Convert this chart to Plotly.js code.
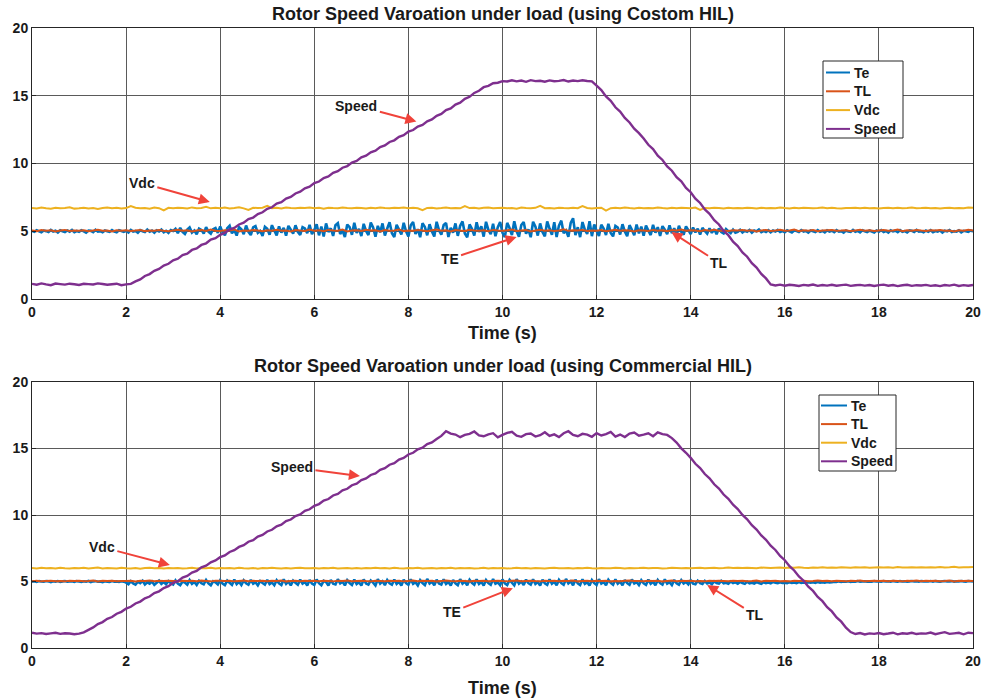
<!DOCTYPE html>
<html>
<head>
<meta charset="utf-8">
<script src="https://cdn.plot.ly/plotly-3.0.1.min.js"></script>
<style>
  html, body { margin: 0; padding: 0; background: #ffffff; }
  #chart { width: 984px; height: 698px; }
</style>
</head>
<body>
<div id="chart"></div>
<script>
// Sample periods of the logged signals (s): torque Te is logged faster
const sampleStep = 0.1;
const teStep = 0.05;

// ---- Custom HIL run ----
// Te sampled at 0.00, 0.05, ... 20.00 s
const teCustom = [
  5.03,4.96,5.08,4.99,4.92,5.05,5.01,4.95,5.10,4.98,5.04,4.91,5.07,5.00,4.94,5.06,4.97,5.09,4.93,5.02,
  4.96,5.08,4.99,4.90,5.05,5.03,4.94,5.11,4.97,5.01,4.92,5.06,5.00,4.95,5.09,4.98,4.93,5.07,5.02,4.96,
  5.04,4.91,5.10,4.97,5.02,4.89,5.08,5.00,4.94,5.12,4.96,5.05,4.90,5.07,4.99,5.13,4.92,5.03,4.88,5.09,
  5.02,5.18,4.86,5.25,4.95,4.80,5.12,5.28,4.90,5.05,4.78,5.20,5.10,4.84,5.30,4.97,4.82,5.15,5.24,4.88,
  5.35,4.92,4.70,5.22,5.40,4.85,5.08,4.68,5.30,5.15,4.78,5.42,4.95,4.72,5.28,5.38,4.88,5.02,4.66,5.33,
  5.18,4.75,5.45,5.05,4.70,5.36,4.90,5.25,4.68,5.40,5.12,4.82,5.44,4.96,4.73,5.30,5.20,4.86,5.48,4.78,
  5.10,5.52,4.70,5.35,4.62,5.58,4.95,5.22,4.66,5.45,5.60,4.80,5.05,4.58,5.50,5.30,4.74,5.62,4.88,5.18,
  4.64,5.55,5.02,4.72,5.64,5.28,4.60,5.40,4.92,5.58,4.68,5.20,5.66,4.85,4.57,5.48,5.12,4.76,5.62,5.00,
  4.62,5.44,5.68,4.80,5.15,4.56,5.60,5.32,4.70,5.52,4.98,4.61,5.70,5.08,4.74,5.46,5.62,4.58,5.26,4.90,
  5.58,4.66,5.40,5.72,4.84,4.55,5.50,5.18,4.69,5.66,4.95,5.36,4.60,5.70,5.10,4.78,5.55,4.63,5.30,5.68,
  4.88,4.57,5.62,5.24,4.72,5.74,5.00,4.60,5.46,5.68,4.82,5.14,4.56,5.70,5.34,4.68,5.58,4.94,4.62,5.72,
  5.20,4.74,5.66,4.58,5.42,5.78,4.86,5.06,4.60,5.62,5.96,4.72,5.30,4.57,5.68,5.12,4.80,5.74,4.64,5.50,
  5.02,4.66,5.48,5.20,4.72,5.55,4.88,4.62,5.40,5.28,4.76,5.52,4.98,4.64,5.45,5.10,4.70,5.50,4.84,5.34,
  4.68,5.42,5.05,4.72,5.48,4.90,5.30,4.66,5.38,5.12,4.78,5.44,4.86,5.22,4.70,5.40,4.95,4.74,5.36,5.08,
  4.80,5.28,4.92,5.18,4.76,5.25,5.02,4.82,5.22,4.88,5.15,4.78,5.20,4.94,4.84,5.16,5.00,4.86,5.12,4.90,
  4.96,5.11,4.91,5.04,4.97,5.09,4.90,5.06,4.99,5.12,4.93,5.03,4.95,5.08,4.92,5.05,4.98,5.10,4.94,5.01,
  4.93,5.07,4.99,4.91,5.06,5.02,4.95,5.09,4.97,5.03,4.90,5.05,5.00,4.94,5.08,4.96,5.02,4.92,5.07,4.98,
  5.04,4.93,5.08,4.97,5.01,4.90,5.06,4.99,4.95,5.10,4.96,5.03,4.92,5.07,5.00,4.94,5.05,4.98,4.91,5.06,
  4.97,5.09,4.94,5.02,4.90,5.07,4.99,5.04,4.93,5.08,4.96,5.01,4.91,5.06,5.03,4.95,5.10,4.97,5.00,4.92,
  5.05,4.96,5.08,4.93,5.02,4.98,5.06,4.91,5.04,4.99,5.09,4.94,5.01,4.97,5.07,4.92,5.03,5.00,4.95,5.06,
  4.98
];
// TL, Vdc and Speed sampled at 0.0, 0.1, ... 20.0 s
const tlCustom = [
  5.06,5.01,5.09,5.03,5.07,4.99,5.05,5.10,5.02,5.06,
  5.04,5.08,5.00,5.06,5.11,5.03,5.05,4.99,5.08,5.04,
  5.07,5.02,5.05,5.09,5.01,5.06,5.03,5.10,5.04,5.00,
  5.06,5.11,5.03,5.07,4.98,5.05,5.09,5.02,5.12,5.04,
  5.01,5.07,5.05,5.12,4.99,5.06,5.03,5.10,5.05,5.00,
  5.08,5.03,5.11,5.04,5.06,4.98,5.09,5.05,5.02,5.13,
  5.04,5.07,5.00,5.10,5.05,5.03,5.12,4.99,5.06,5.08,
  5.02,5.11,5.05,5.07,4.98,5.09,5.04,5.06,5.13,5.01,
  5.06,5.03,5.10,5.05,5.00,5.08,5.12,5.04,5.07,4.99,
  5.09,5.05,5.02,5.11,5.06,5.03,5.08,5.00,5.10,5.05,
  5.03,5.07,5.13,5.02,5.06,5.09,4.99,5.05,5.11,5.04,
  5.08,5.01,5.06,5.14,5.03,5.07,5.05,5.10,5.02,5.06,
  5.04,5.09,5.00,5.06,5.11,5.03,5.07,5.05,4.99,5.08,
  5.06,5.02,5.10,5.04,5.07,5.01,5.09,5.05,5.12,5.03,
  5.07,5.05,5.00,5.09,5.04,5.11,5.03,5.06,5.02,5.08,
  5.05,5.10,5.03,5.07,4.99,5.06,5.09,5.02,5.05,5.11,
  5.03,5.06,5.12,5.01,5.07,5.04,5.09,5.00,5.06,5.08,
  5.10,5.03,5.05,5.08,5.01,5.06,5.11,5.04,5.07,5.02,
  5.06,5.09,5.03,5.05,5.12,5.00,5.07,5.04,5.09,5.05,
  5.02,5.07,5.05,5.10,5.03,5.06,4.99,5.08,5.04,5.11,
  5.05
];
const vdcCustom = [
  6.72,6.68,6.75,6.70,6.66,6.73,6.69,6.71,6.77,6.67,
  6.70,6.74,6.68,6.72,6.65,6.71,6.76,6.69,6.73,6.68,
  6.71,6.86,6.74,6.69,6.72,6.67,6.75,6.70,6.54,6.73,
  6.69,6.74,6.71,6.68,6.76,6.70,6.72,6.80,6.69,6.73,
  6.70,6.75,6.68,6.72,6.77,6.69,6.58,6.73,6.71,6.74,
  6.88,6.70,6.73,6.68,6.75,6.71,6.69,6.74,6.72,6.76,
  6.70,6.73,6.67,6.74,6.71,6.69,6.75,6.72,6.70,6.73,
  6.71,6.68,6.74,6.70,6.76,6.72,6.69,6.73,6.71,6.75,
  6.69,6.73,6.70,6.56,6.72,6.74,6.68,6.71,6.75,6.70,
  6.72,6.69,6.86,6.71,6.74,6.68,6.73,6.76,6.70,6.72,
  6.74,6.70,6.72,6.67,6.75,6.71,6.69,6.73,6.88,6.70,
  6.72,6.68,6.74,6.71,6.69,6.73,6.70,6.85,6.72,6.68,
  6.71,6.74,6.52,6.70,6.73,6.69,6.75,6.71,6.68,6.73,
  6.70,6.72,6.69,6.76,6.71,6.68,6.74,6.70,6.73,6.71,
  6.69,6.75,6.58,6.72,6.70,6.73,6.71,6.68,6.74,6.70,
  6.72,6.69,6.73,6.71,6.68,6.74,6.70,6.72,6.69,6.75,
  6.71,6.68,6.73,6.70,6.74,6.72,6.69,6.71,6.75,6.70,
  6.73,6.70,6.68,6.72,6.71,6.74,6.69,6.73,6.70,6.72,
  6.68,6.71,6.74,6.70,6.73,6.69,6.72,6.76,6.70,6.71,
  6.74,6.70,6.72,6.68,6.71,6.73,6.69,6.72,6.70,6.75,
  6.73
];
const speedCustom = [
  1.12,1.05,1.15,1.08,1.02,1.14,1.10,1.06,1.13,1.09,
  1.04,1.12,1.10,1.07,1.15,1.11,1.05,1.09,1.13,1.02,
  1.08,1.12,1.30,1.45,1.70,1.84,2.08,2.22,2.47,2.60,
  2.86,2.97,3.24,3.35,3.62,3.73,3.99,4.11,4.38,4.49,
  4.74,4.88,5.14,5.25,5.50,5.63,5.90,6.01,6.27,6.40,
  6.65,6.77,7.04,7.15,7.41,7.53,7.79,7.92,8.17,8.29,
  8.55,8.67,8.93,9.05,9.31,9.43,9.69,9.81,10.07,10.19,
  10.45,10.58,10.83,10.95,11.21,11.33,11.59,11.71,11.97,12.09,
  12.35,12.47,12.73,12.85,13.11,13.25,13.52,13.66,13.94,14.07,
  14.35,14.49,14.77,14.92,15.21,15.37,15.63,15.73,15.92,15.96,
  16.08,16.05,16.14,16.06,16.12,16.03,16.15,16.08,16.11,16.04,
  16.13,16.07,16.10,16.16,16.05,16.12,16.08,16.14,16.09,16.06,
  15.74,15.42,14.95,14.62,14.15,13.83,13.36,13.03,12.57,12.24,
  11.85,11.38,11.06,10.58,10.26,9.79,9.47,8.99,8.68,8.20,
  7.88,7.41,7.09,6.61,6.29,5.82,5.50,5.02,4.71,4.23,
  3.91,3.44,3.12,2.64,2.32,1.85,1.52,1.08,1.00,1.06,
  0.98,1.05,1.01,0.96,1.04,1.00,1.07,0.97,1.03,0.99,
  1.05,0.98,1.02,1.06,0.97,1.01,1.04,0.99,1.03,0.96,
  1.02,1.06,0.98,1.03,0.95,1.01,1.05,0.97,1.02,1.00,
  1.04,0.97,1.01,0.95,1.03,0.99,1.06,0.96,1.02,0.98,
  1.03
];

// ---- Commercial HIL run ----
// Te sampled at 0.00, 0.05, ... 20.00 s
const teCommercial = [
  4.99,5.02,4.97,5.03,5.00,4.98,5.04,5.01,4.96,5.02,4.99,5.03,4.97,5.01,5.04,4.98,5.00,5.02,4.97,5.03,
  5.00,4.97,5.02,4.99,5.04,4.96,5.01,5.03,4.98,5.00,4.95,5.02,4.99,4.96,5.03,4.98,5.01,4.97,5.02,4.99,
  4.92,4.80,5.02,4.86,4.76,4.98,4.88,5.05,4.78,4.94,4.84,5.00,4.75,4.90,5.06,4.82,4.96,4.79,5.03,4.87,
  4.77,5.08,4.85,4.73,5.00,4.92,4.76,5.10,4.83,4.97,4.74,5.05,4.88,4.79,5.12,4.86,4.72,5.02,4.94,4.78,
  5.10,4.84,4.72,5.06,4.90,4.75,5.14,4.81,4.98,4.73,5.08,4.87,4.76,5.12,4.83,4.95,4.71,5.04,4.89,4.77,
  5.13,4.80,4.93,4.72,5.09,4.86,4.74,5.16,4.82,5.00,4.71,5.07,4.90,4.76,5.14,4.84,4.97,4.70,5.11,4.85,
  4.74,5.15,4.88,4.72,5.05,4.96,4.70,5.12,4.83,4.78,5.17,4.86,4.99,4.71,5.10,4.89,4.75,5.14,4.81,4.94,
  4.70,5.16,4.85,4.77,5.08,4.92,4.71,5.18,4.84,5.01,4.73,5.11,4.87,4.76,5.15,4.82,4.98,4.70,5.13,4.88,
  4.75,5.17,4.83,4.95,4.71,5.10,4.89,4.74,5.19,4.85,4.99,4.72,5.14,4.86,4.78,5.16,4.81,4.96,4.70,5.12,
  4.87,4.73,5.18,4.84,5.00,4.71,5.13,4.90,4.76,5.17,4.82,4.97,4.70,5.11,4.88,4.75,5.19,4.83,4.94,4.72,
  5.15,4.86,4.74,5.12,4.91,4.71,5.18,4.84,4.99,4.73,5.14,4.88,4.77,5.16,4.82,4.96,4.70,5.13,4.87,4.75,
  5.17,4.83,4.98,4.72,5.12,4.89,4.76,5.19,4.85,5.01,4.71,5.14,4.87,4.74,5.16,4.82,4.95,4.70,5.11,4.88,
  4.74,5.18,4.84,4.97,4.72,5.13,4.90,4.76,5.17,4.83,4.99,4.71,5.12,4.88,4.75,5.15,4.85,4.96,4.73,5.10,
  4.86,4.75,5.14,4.83,4.98,4.72,5.11,4.89,4.77,5.16,4.84,4.95,4.73,5.12,4.87,4.76,5.10,4.85,4.97,4.78,
  5.08,4.84,4.79,5.06,4.88,4.82,5.04,4.86,4.93,4.80,5.02,4.89,4.84,5.05,4.87,4.91,4.83,5.00,4.88,4.94,
  4.84,4.97,4.88,4.82,4.99,4.86,4.91,4.85,4.96,4.89,4.83,4.95,4.88,4.92,4.86,4.97,4.90,4.87,4.94,4.89,
  4.91,4.87,4.95,4.89,4.93,4.88,4.96,4.90,4.92,4.89,4.95,4.91,4.94,4.90,4.97,4.92,4.95,4.91,4.96,4.93,
  4.95,4.99,4.96,5.01,4.97,5.00,4.98,5.02,4.97,5.01,4.99,5.03,4.98,5.00,5.02,4.99,5.01,4.98,5.03,5.00,
  5.01,4.99,5.03,5.00,5.02,4.98,5.04,5.01,4.99,5.03,5.00,5.02,4.98,5.01,5.04,5.00,5.02,4.99,5.03,5.01,
  5.02,5.00,5.04,4.99,5.03,5.01,4.98,5.02,5.04,5.00,5.01,5.03,4.99,5.02,5.00,5.04,5.01,4.99,5.03,5.02,
  5.01
];
// TL, Vdc and Speed sampled at 0.0, 0.1, ... 20.0 s
const tlCommercial = [
  5.02,5.05,5.01,5.04,5.06,5.02,5.04,5.01,5.05,5.03,
  5.06,5.02,5.04,5.07,5.01,5.05,5.03,5.06,5.02,5.04,
  5.03,5.06,5.01,5.05,5.04,5.07,5.02,5.05,5.03,5.06,
  5.04,5.01,5.06,5.03,5.05,5.02,5.07,5.04,5.01,5.05,
  5.06,5.03,5.05,5.01,5.04,5.07,5.02,5.05,5.03,5.06,
  5.02,5.05,5.03,5.07,5.01,5.04,5.06,5.02,5.05,5.03,
  5.05,5.02,5.06,5.04,5.01,5.05,5.03,5.07,5.02,5.04,
  5.06,5.03,5.01,5.05,5.04,5.02,5.06,5.03,5.05,5.01,
  5.04,5.07,5.02,5.05,5.03,5.06,5.01,5.04,5.07,5.03,
  5.02,5.05,5.04,5.01,5.06,5.03,5.05,5.02,5.04,5.06,
  5.03,5.01,5.05,5.07,5.02,5.04,5.06,5.03,5.01,5.05,
  5.04,5.06,5.02,5.05,5.03,5.07,5.01,5.04,5.06,5.02,
  5.05,5.03,5.06,5.01,5.04,5.02,5.05,5.07,5.03,5.04,
  5.02,5.05,5.03,5.06,5.01,5.04,5.07,5.02,5.05,5.03,
  5.06,5.02,5.04,5.01,5.05,5.03,5.06,5.04,5.02,5.05,
  5.03,5.06,5.02,5.04,5.07,5.01,5.05,5.03,5.06,5.02,
  5.04,5.01,5.05,5.03,5.06,5.02,5.04,5.07,5.03,5.05,
  5.02,5.06,5.04,5.01,5.05,5.03,5.07,5.02,5.04,5.06,
  5.03,5.05,5.02,5.06,5.04,5.01,5.05,5.03,5.07,5.02,
  5.05,5.03,5.06,5.02,5.04,5.07,5.01,5.05,5.03,5.06,
  5.04
];
const vdcCommercial = [
  6.01,5.98,6.03,5.99,6.02,5.97,6.04,6.00,5.98,6.02,
  5.99,6.03,5.97,6.01,6.05,5.98,6.02,6.00,5.97,6.03,
  6.00,5.98,6.02,5.96,6.01,6.04,5.99,6.02,5.97,6.01,
  5.99,6.02,5.98,6.00,6.03,5.97,6.01,5.99,6.04,5.98,
  6.02,5.99,6.01,5.97,6.03,6.00,5.98,6.02,5.96,6.01,
  5.99,6.03,6.00,5.97,6.02,5.98,6.01,6.04,5.99,6.00,
  6.02,5.97,6.01,5.99,6.03,5.98,6.00,6.02,5.97,6.01,
  5.98,6.02,6.00,6.04,5.99,6.01,5.97,6.03,6.00,5.98,
  6.01,5.99,6.03,5.97,6.00,6.02,5.98,6.01,5.99,6.03,
  5.97,6.01,5.99,6.02,5.98,6.00,6.03,5.97,6.01,5.99,
  6.02,5.98,6.00,6.03,5.99,6.01,5.97,6.02,6.00,5.98,
  6.01,6.03,5.99,6.00,6.02,5.98,6.01,5.99,6.03,6.00,
  5.98,6.02,6.00,5.99,6.03,6.01,5.98,6.02,6.00,6.01,
  6.03,5.99,6.01,6.02,5.98,6.00,6.03,6.01,5.99,6.02,
  6.00,6.02,6.04,5.99,6.01,6.03,6.00,6.02,6.05,6.01,
  6.03,6.01,6.04,6.02,6.00,6.05,6.03,6.01,6.04,6.06,
  6.02,6.05,6.03,6.07,6.04,6.02,6.06,6.04,6.08,6.03,
  6.06,6.04,6.07,6.05,6.03,6.08,6.05,6.07,6.04,6.06,
  6.08,6.05,6.07,6.04,6.09,6.06,6.05,6.08,6.06,6.07,
  6.05,6.08,6.06,6.09,6.05,6.07,6.10,6.06,6.08,6.07,
  6.09
];
const speedCommercial = [
  1.15,1.08,1.12,1.05,1.10,1.14,1.06,1.11,1.09,1.04,
  1.08,1.18,1.36,1.55,1.80,1.95,2.19,2.33,2.58,2.72,
  2.96,3.10,3.35,3.49,3.74,3.87,4.13,4.26,4.51,4.65,
  4.90,5.03,5.29,5.42,5.67,5.80,6.06,6.19,6.44,6.58,
  6.83,6.96,7.22,7.35,7.60,7.73,7.99,8.11,8.38,8.50,
  8.76,8.89,9.15,9.27,9.54,9.66,9.92,10.04,10.31,10.43,
  10.69,10.82,11.08,11.20,11.47,11.59,11.85,11.97,12.24,12.36,
  12.62,12.75,13.01,13.13,13.40,13.52,13.78,13.90,14.17,14.29,
  14.55,14.68,14.94,15.06,15.33,15.45,15.71,15.95,16.30,16.12,
  16.05,15.85,16.02,16.10,16.28,15.98,15.92,16.06,16.15,15.84,
  16.02,16.18,16.25,15.96,15.88,16.08,16.12,15.90,16.00,16.22,
  15.94,16.06,15.86,16.15,16.30,16.02,15.92,16.10,16.04,15.88,
  16.16,15.98,16.08,16.24,15.90,16.05,15.86,16.12,16.20,15.96,
  16.04,16.14,15.92,16.22,16.08,16.02,15.78,15.45,15.01,14.68,
  14.30,13.85,13.53,13.08,12.76,12.31,11.99,11.54,11.22,10.77,
  10.45,10.00,9.68,9.23,8.91,8.46,8.14,7.69,7.37,6.92,
  6.60,6.15,5.83,5.38,5.06,4.61,4.29,3.84,3.52,3.07,
  2.75,2.30,1.98,1.53,1.20,1.05,1.12,1.02,1.10,1.06,
  1.13,1.04,1.09,1.15,1.03,1.11,1.07,1.14,1.05,1.10,
  1.08,1.16,1.04,1.12,1.19,1.06,1.10,1.14,1.03,1.15,
  1.12
];

// Time bases of the logged samples
const timeOf = (vals, step) => vals.map((_, i) => +(i * step).toFixed(2));
const time = timeOf(speedCustom, sampleStep);
const teTime = timeOf(teCustom, teStep);

const seriesNames = ['Te', 'TL', 'Vdc', 'Speed'];
const seriesColors = ['#0072BD', '#D95319', '#EDB120', '#7E2F8E'];
const seriesWidths = [2.6, 2, 2, 2.4];
const panelTitles = [
  'Rotor Speed Varoation under load (using Costom HIL)',
  'Rotor Speed Varoation under load (using Commercial HIL)'
];
const xAxisLabel = 'Time (s)';
const xTicks = [0, 2, 4, 6, 8, 10, 12, 14, 16, 18, 20];
const yTicks = [0, 5, 10, 15, 20];

// Callout labels: [text, x, y] of the point each red arrow touches
const calloutsCustom = [
  ['Speed', 8.17, 13.1], ['Vdc', 3.78, 7.16], ['TE', 10.3, 4.58], ['TL', 13.59, 4.94]
];
const calloutsCommercial = [
  ['Speed', 6.97, 12.93], ['Vdc', 2.93, 6.24], ['TE', 10.22, 4.5], ['TL', 14.35, 4.74]
];

const FONT = '"Liberation Sans", Arial, Helvetica, sans-serif';
const INK = '#1a1a1a';

// Figure geometry (px)
const W = 984, H = 698;
const M = { l: 32, r: 11, t: 28, b: 50 };
const plotW = W - M.l - M.r, plotH = H - M.t - M.b;
const px2x = px => (px - M.l) / plotW;
const px2y = py => (H - M.b - py) / plotH;

function makeTraces(sets, xa, ya) {
  return sets.map((vals, k) => ({
    type: 'scatter', mode: 'lines',
    x: k === 0 ? teTime : time, y: vals,
    name: seriesNames[k],
    xaxis: xa, yaxis: ya, showlegend: false,
    line: { color: seriesColors[k], width: seriesWidths[k], simplify: false },
    hoverinfo: 'skip'
  }));
}

const traces = [
  ...makeTraces([teCustom, tlCustom, vdcCustom, speedCustom], 'x', 'y'),
  ...makeTraces([teCommercial, tlCommercial, vdcCommercial, speedCommercial], 'x2', 'y2')
];

function axis(extra) {
  return Object.assign({
    showline: true, mirror: true, linecolor: '#262626', linewidth: 1,
    showgrid: true, gridcolor: '#5a5a5a', gridwidth: 1,
    zeroline: false,
    ticks: 'inside', ticklen: 4, tickcolor: '#262626',
    tickfont: { family: FONT, size: 14, weight: 'bold', color: INK },
    fixedrange: true
  }, extra);
}

// Arrow offsets (px) from the touched point to the label
const calloutOffsets = [[-60, -16], [-68, -19], [-67, 22], [48, 31]];
const calloutOffsets2 = [[-68, -9], [-68, -18], [-61, 24], [48, 30]];

function makeCallouts(list, offs, xr, yr) {
  return list.map(([txt, x, y], i) => ({
    text: txt, x: x, y: y, xref: xr, yref: yr,
    ax: offs[i][0], ay: offs[i][1],
    showarrow: true, arrowhead: 2, arrowsize: 1.1, arrowwidth: 2,
    arrowcolor: '#f0433a', standoff: 0, startstandoff: 1,
    font: { family: FONT, size: 14, weight: 'bold', color: INK }
  }));
}

// Boxed key: left/top/width/height of the frame, first row offset and row pitch (px)
function makeKey(box) {
  const shapes = [{
    type: 'rect', xref: 'paper', yref: 'paper',
    x0: px2x(box.left), x1: px2x(box.left + box.width),
    y0: px2y(box.top + box.height), y1: px2y(box.top),
    line: { color: '#262626', width: 1 }, fillcolor: '#ffffff', layer: 'above'
  }];
  const notes = [];
  seriesNames.forEach((name, k) => {
    const rowY = box.top + box.first + k * box.pitch;
    shapes.push({
      type: 'line', xref: 'paper', yref: 'paper',
      x0: px2x(box.left + box.lineFrom), x1: px2x(box.left + box.lineTo),
      y0: px2y(rowY), y1: px2y(rowY),
      line: { color: seriesColors[k], width: 2 }, layer: 'above'
    });
    notes.push({
      text: name, xref: 'paper', yref: 'paper',
      x: px2x(box.left + box.lineTo + 2), y: px2y(rowY),
      xanchor: 'left', yanchor: 'middle', showarrow: false,
      font: { family: FONT, size: 14, weight: 'bold', color: INK }
    });
  });
  return { shapes, notes };
}

const keyTop = makeKey({ left: 823, top: 61, width: 80, height: 77, first: 11.5, pitch: 18.8, lineFrom: 3, lineTo: 27 });
const keyBottom = makeKey({ left: 819, top: 395, width: 77, height: 76, first: 10.5, pitch: 18.6, lineFrom: 2, lineTo: 28 });

const titleFont = { family: FONT, size: 18, weight: 'bold', color: INK };

// Centred text label in paper coordinates at a given pixel row
const label = (text, py) => ({
  text: text, xref: 'paper', yref: 'paper', x: 0.5, y: px2y(py),
  xanchor: 'center', yanchor: 'middle', showarrow: false, font: titleFont
});

const layout = {
  width: W, height: H,
  margin: M,
  paper_bgcolor: '#ffffff', plot_bgcolor: '#ffffff',
  font: { family: FONT, color: INK },
  showlegend: false,
  xaxis: axis({ domain: [0, 1], range: [0, 20], tickvals: xTicks, anchor: 'y' }),
  yaxis: axis({ domain: [px2y(299), 1], range: [0, 20], tickvals: yTicks, anchor: 'x' }),
  xaxis2: axis({ domain: [0, 1], range: [0, 20], tickvals: xTicks, anchor: 'y2' }),
  yaxis2: axis({ domain: [0, px2y(382)], range: [0, 20], tickvals: yTicks, anchor: 'x2' }),
  shapes: [...keyTop.shapes, ...keyBottom.shapes],
  annotations: [
    label(panelTitles[0], 14),
    label(xAxisLabel, 333),
    label(panelTitles[1], 366),
    label(xAxisLabel, 688),
    ...makeCallouts(calloutsCustom, calloutOffsets, 'x', 'y'),
    ...makeCallouts(calloutsCommercial, calloutOffsets2, 'x2', 'y2'),
    ...keyTop.notes, ...keyBottom.notes
  ]
};

Plotly.newPlot('chart', traces, layout, { displayModeBar: false, staticPlot: true });
</script>
</body>
</html>
